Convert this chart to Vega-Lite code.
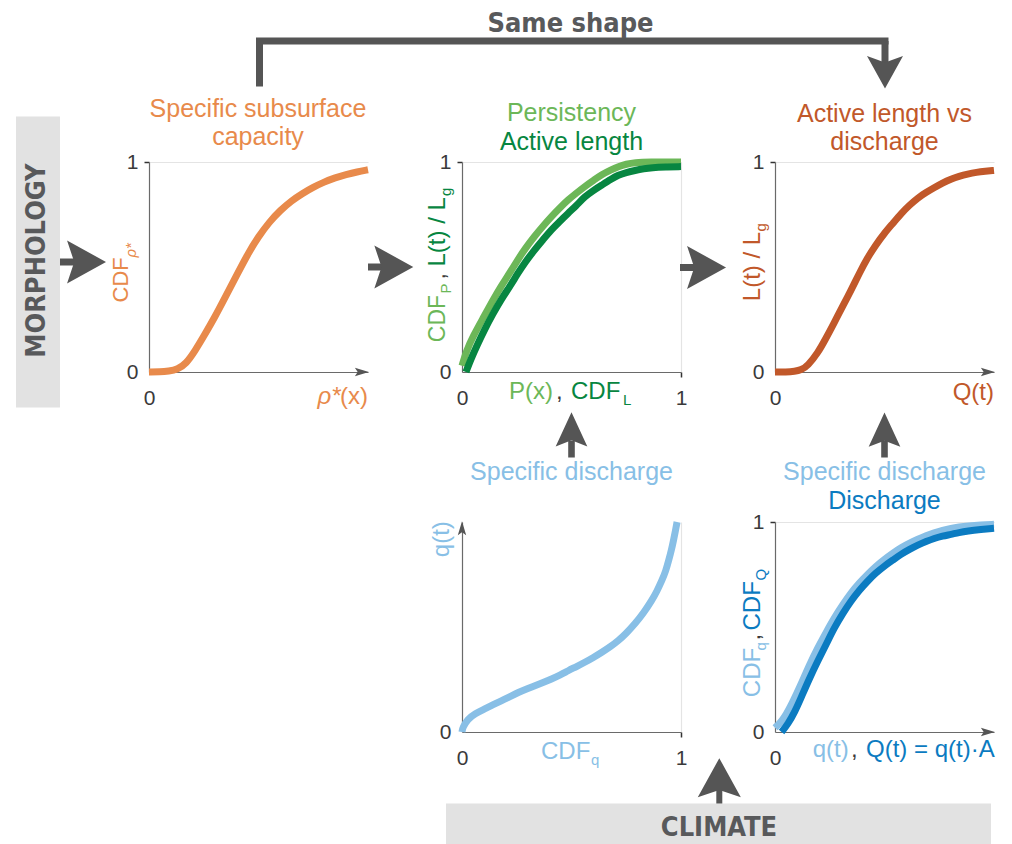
{
  "$schema": "https://vega.github.io/schema/vega-lite/v6.json",
  "padding": 0,
  "background": "#ffffff",
  "config": {
    "view": {"stroke": null},
    "axis": {"domainColor": "#6A6A6A", "domainWidth": 1.2, "tickColor": "#333333", "tickSize": 5, "tickWidth": 1.5, "labelFont": "Liberation Sans", "labelFontSize": 21, "labelColor": "#3A3A3A", "labelPadding": 6, "labelFlush": false, "gridColor": "#E4E4E4", "gridWidth": 1.2},
    "axisX": {"labelPadding": 10, "labelFlush": false},
    "axisY": {"labelFlush": false},
    "text": {"font": "Liberation Sans"}
  },
  "datasets": {
    "a": [{"x":0,"y":0},{"x":0.05,"y":0},{"x":0.09,"y":0.004},{"x":0.13,"y":0.012},{"x":0.17,"y":0.04},{"x":0.21,"y":0.1},{"x":0.25,"y":0.17},{"x":0.3,"y":0.26},{"x":0.35,"y":0.36},{"x":0.4,"y":0.46},{"x":0.45,"y":0.56},{"x":0.5,"y":0.645},{"x":0.55,"y":0.715},{"x":0.6,"y":0.77},{"x":0.65,"y":0.815},{"x":0.7,"y":0.85},{"x":0.75,"y":0.88},{"x":0.8,"y":0.905},{"x":0.85,"y":0.925},{"x":0.9,"y":0.94},{"x":0.95,"y":0.953},{"x":1.0,"y":0.963}],
    "persistency": [{"x":0,"y":0.03},{"x":0.02,"y":0.1},{"x":0.05,"y":0.17},{"x":0.102,"y":0.267},{"x":0.14,"y":0.34},{"x":0.179,"y":0.41},{"x":0.22,"y":0.475},{"x":0.255,"y":0.535},{"x":0.29,"y":0.59},{"x":0.33,"y":0.645},{"x":0.37,"y":0.695},{"x":0.408,"y":0.74},{"x":0.45,"y":0.785},{"x":0.485,"y":0.82},{"x":0.52,"y":0.85},{"x":0.56,"y":0.883},{"x":0.6,"y":0.912},{"x":0.638,"y":0.94},{"x":0.68,"y":0.962},{"x":0.714,"y":0.978},{"x":0.75,"y":0.99},{"x":0.79,"y":0.997},{"x":0.85,"y":1.0},{"x":1.0,"y":1.0}],
    "length": [{"x":0.018,"y":0},{"x":0.04,"y":0.06},{"x":0.07,"y":0.13},{"x":0.102,"y":0.2},{"x":0.14,"y":0.275},{"x":0.179,"y":0.346},{"x":0.22,"y":0.41},{"x":0.255,"y":0.47},{"x":0.29,"y":0.525},{"x":0.33,"y":0.58},{"x":0.37,"y":0.63},{"x":0.408,"y":0.678},{"x":0.45,"y":0.72},{"x":0.485,"y":0.757},{"x":0.52,"y":0.79},{"x":0.56,"y":0.835},{"x":0.6,"y":0.865},{"x":0.638,"y":0.89},{"x":0.68,"y":0.918},{"x":0.714,"y":0.938},{"x":0.75,"y":0.95},{"x":0.79,"y":0.96},{"x":0.83,"y":0.968},{"x":0.867,"y":0.973},{"x":0.93,"y":0.976},{"x":1.0,"y":0.978}],
    "c": [{"x":0,"y":0},{"x":0.05,"y":0},{"x":0.09,"y":0.003},{"x":0.119,"y":0.009},{"x":0.15,"y":0.03},{"x":0.195,"y":0.09},{"x":0.23,"y":0.155},{"x":0.269,"y":0.232},{"x":0.31,"y":0.315},{"x":0.347,"y":0.389},{"x":0.385,"y":0.47},{"x":0.423,"y":0.545},{"x":0.46,"y":0.605},{"x":0.498,"y":0.659},{"x":0.54,"y":0.71},{"x":0.575,"y":0.754},{"x":0.615,"y":0.795},{"x":0.652,"y":0.829},{"x":0.69,"y":0.855},{"x":0.726,"y":0.877},{"x":0.765,"y":0.9},{"x":0.804,"y":0.919},{"x":0.84,"y":0.932},{"x":0.88,"y":0.943},{"x":0.92,"y":0.951},{"x":0.96,"y":0.956},{"x":1.0,"y":0.96}],
    "d": [{"x":0,"y":0},{"x":0.003,"y":0.021},{"x":0.026,"y":0.061},{"x":0.06,"y":0.088},{"x":0.102,"y":0.109},{"x":0.14,"y":0.129},{"x":0.179,"y":0.148},{"x":0.22,"y":0.169},{"x":0.256,"y":0.188},{"x":0.3,"y":0.207},{"x":0.332,"y":0.22},{"x":0.37,"y":0.236},{"x":0.408,"y":0.252},{"x":0.45,"y":0.272},{"x":0.485,"y":0.292},{"x":0.52,"y":0.31},{"x":0.561,"y":0.332},{"x":0.6,"y":0.355},{"x":0.638,"y":0.379},{"x":0.68,"y":0.408},{"x":0.714,"y":0.435},{"x":0.75,"y":0.47},{"x":0.79,"y":0.515},{"x":0.83,"y":0.568},{"x":0.867,"y":0.627},{"x":0.89,"y":0.67},{"x":0.913,"y":0.722},{"x":0.93,"y":0.765},{"x":0.944,"y":0.818},{"x":0.956,"y":0.865},{"x":0.966,"y":0.914},{"x":0.975,"y":0.96},{"x":0.982,"y":1.0}],
    "cdfq": [{"x":0,"y":0.02},{"x":0.02,"y":0.04},{"x":0.043,"y":0.068},{"x":0.08,"y":0.14},{"x":0.119,"y":0.227},{"x":0.155,"y":0.315},{"x":0.195,"y":0.401},{"x":0.235,"y":0.477},{"x":0.271,"y":0.544},{"x":0.31,"y":0.607},{"x":0.347,"y":0.663},{"x":0.385,"y":0.71},{"x":0.423,"y":0.751},{"x":0.46,"y":0.789},{"x":0.499,"y":0.822},{"x":0.54,"y":0.853},{"x":0.575,"y":0.878},{"x":0.615,"y":0.9},{"x":0.652,"y":0.918},{"x":0.69,"y":0.935},{"x":0.727,"y":0.949},{"x":0.765,"y":0.961},{"x":0.804,"y":0.97},{"x":0.84,"y":0.976},{"x":0.88,"y":0.981},{"x":0.94,"y":0.986},{"x":1.0,"y":0.989}],
    "cdfQ": [{"x":0.03,"y":0},{"x":0.06,"y":0.04},{"x":0.09,"y":0.095},{"x":0.119,"y":0.163},{"x":0.155,"y":0.25},{"x":0.195,"y":0.338},{"x":0.235,"y":0.42},{"x":0.271,"y":0.497},{"x":0.31,"y":0.565},{"x":0.347,"y":0.624},{"x":0.385,"y":0.675},{"x":0.423,"y":0.719},{"x":0.46,"y":0.757},{"x":0.499,"y":0.79},{"x":0.54,"y":0.82},{"x":0.575,"y":0.846},{"x":0.615,"y":0.87},{"x":0.652,"y":0.89},{"x":0.69,"y":0.907},{"x":0.727,"y":0.922},{"x":0.765,"y":0.933},{"x":0.804,"y":0.941},{"x":0.84,"y":0.95},{"x":0.88,"y":0.957},{"x":0.94,"y":0.964},{"x":1.0,"y":0.97}]
  },
  "columns": 3,
  "spacing": {"row": 150, "column": 94},
  "bounds": "flush",
  "concat": [
    {
      "width": 219, "height": 210,
      "layer": [
        {
          "data": {"name": "a"},
          "mark": {"type": "line", "color": "#E88A4B", "strokeWidth": 7, "interpolate": "basis"},
          "encoding": {
            "x": {"field": "x", "type": "quantitative", "scale": {"domain": [0, 1], "nice": false, "zero": false}, "axis": {"title": null, "format": "d", "values": [0], "grid": false, "tickOpacity": 0}},
            "y": {"field": "y", "type": "quantitative", "scale": {"domain": [0, 1], "nice": false, "zero": false}, "axis": {"title": null, "format": "d", "values": [0, 1], "grid": true, "gridOpacity": {"condition": {"test": "datum.value == 0", "value": 0}, "value": 1}, "tickOpacity": {"condition": {"test": "datum.value == 0", "value": 0}, "value": 1}}}
          }
        },
        {
          "data": {"values": [{}]},
          "layer": [
            {"mark": {"type": "rect", "opacity": 0, "color": "#ffffff"}, "encoding": {"x": {"datum": -0.6758}, "x2": {"datum": 3.9452}, "y": {"datum": 1.769}, "y2": {"datum": -2.25}}},
            {"mark": {"type": "rect", "color": "#E2E2E2"}, "encoding": {"x": {"datum": -0.6073}, "x2": {"datum": -0.4064}, "y": {"datum": 1.2167}, "y2": {"datum": -0.169}}},
            {"mark": {"type": "text", "text": "MORPHOLOGY", "angle": 270, "font": "DejaVu Sans Condensed", "fontWeight": "bold", "fontSize": 27, "color": "#58595B", "align": "center", "baseline": "middle"}, "encoding": {"x": {"datum": -0.5114}, "y": {"datum": 0.531}}},
            {"mark": {"type": "rule", "color": "#555555", "strokeWidth": 7}, "encoding": {"x": {"datum": -0.4064}, "x2": {"datum": -0.27}, "y": {"datum": 0.5238}}},
            {"mark": {"type": "point", "shape": "M0,0L-1.9,-1.05L-1.55,0L-1.9,1.05Z", "size": 1681, "filled": true, "color": "#555555", "opacity": 1, "strokeWidth": 0}, "encoding": {"x": {"datum": -0.1963}, "y": {"datum": 0.5238}}},
            {"mark": {"type": "rule", "color": "#555555", "strokeWidth": 7}, "encoding": {"x": {"datum": 1.0}, "x2": {"datum": 1.09}, "y": {"datum": 0.5}}},
            {"mark": {"type": "point", "shape": "M0,0L-1.9,-1.05L-1.55,0L-1.9,1.05Z", "size": 1681, "filled": true, "color": "#555555", "opacity": 1, "strokeWidth": 0}, "encoding": {"x": {"datum": 1.2068}, "y": {"datum": 0.5}}},
            {"mark": {"type": "rule", "color": "#555555", "strokeWidth": 7, "strokeCap": "square"}, "encoding": {"x": {"datum": 0.5046}, "x2": {"datum": 3.3607}, "y": {"datum": 1.5762}}},
            {"mark": {"type": "rule", "color": "#555555", "strokeWidth": 7}, "encoding": {"x": {"datum": 0.5046}, "y": {"datum": 1.5762}, "y2": {"datum": 1.3595}}},
            {"mark": {"type": "rule", "color": "#555555", "strokeWidth": 7}, "encoding": {"x": {"datum": 3.3607}, "y": {"datum": 1.5762}, "y2": {"datum": 1.45}}},
            {"mark": {"type": "point", "shape": "M0,0L-1,-1.8L0,-1.45L1,-1.8Z", "size": 1296, "filled": true, "color": "#555555", "opacity": 1, "strokeWidth": 0}, "encoding": {"x": {"datum": 3.3607}, "y": {"datum": 1.35}}},
            {"mark": {"type": "text", "text": "Same shape", "font": "DejaVu Sans Condensed", "fontWeight": "bold", "fontSize": 27, "color": "#58595B", "align": "center", "baseline": "alphabetic"}, "encoding": {"x": {"datum": 1.9247}, "y": {"datum": 1.6167}}},
            {"mark": {"type": "text", "text": "Specific subsurface", "fontSize": 25, "color": "#E88A4B", "align": "center", "baseline": "alphabetic"}, "encoding": {"x": {"datum": 0.4977}, "y": {"datum": 1.2143}}},
            {"mark": {"type": "text", "text": "capacity", "fontSize": 25, "color": "#E88A4B", "align": "center", "baseline": "alphabetic"}, "encoding": {"x": {"datum": 0.4977}, "y": {"datum": 1.0786}}},
            {"mark": {"type": "text", "text": "CDF", "angle": 270, "fontSize": 22, "color": "#E88A4B", "align": "left", "baseline": "alphabetic"}, "encoding": {"x": {"datum": -0.0959}, "y": {"datum": 0.331}}},
            {"mark": {"type": "text", "text": "ρ*", "angle": 270, "fontSize": 15, "fontStyle": "italic", "color": "#E88A4B", "align": "left", "baseline": "alphabetic"}, "encoding": {"x": {"datum": -0.0594}, "y": {"datum": 0.5452}}},
            {"mark": {"type": "text", "text": "(x)", "fontSize": 24, "color": "#E88A4B", "align": "right", "baseline": "alphabetic"}, "encoding": {"x": {"datum": 1.0}, "y": {"datum": -0.1514}}},
            {"mark": {"type": "text", "text": "ρ*", "fontSize": 24, "fontStyle": "italic", "color": "#E88A4B", "align": "right", "baseline": "alphabetic"}, "encoding": {"x": {"datum": 0.8744}, "y": {"datum": -0.1514}}},
            {"mark": {"type": "point", "shape": "M0,0L-2,-0.6L-1.6,0L-2,0.6Z", "size": 196, "filled": true, "color": "#555555", "opacity": 1, "strokeWidth": 0}, "encoding": {"x": {"datum": 1.004}, "y": {"datum": 0}}}
          ]
        }
      ]
    },
    {
      "width": 219, "height": 210,
      "layer": [
        {
          "data": {"name": "persistency"},
          "mark": {"type": "line", "color": "#6CB758", "strokeWidth": 7, "interpolate": "basis"},
          "encoding": {
            "x": {"field": "x", "type": "quantitative", "scale": {"domain": [0, 1], "nice": false, "zero": false}, "axis": {"title": null, "format": "d", "values": [0, 1], "grid": true, "gridOpacity": {"condition": {"test": "datum.value == 0", "value": 0}, "value": 1}, "tickOpacity": {"condition": {"test": "datum.value == 0", "value": 0}, "value": 1}}},
            "y": {"field": "y", "type": "quantitative", "scale": {"domain": [0, 1], "nice": false, "zero": false}, "axis": {"title": null, "format": "d", "values": [0, 1], "grid": true, "gridOpacity": {"condition": {"test": "datum.value == 0", "value": 0}, "value": 1}, "tickOpacity": {"condition": {"test": "datum.value == 0", "value": 0}, "value": 1}}}
          }
        },
        {
          "data": {"name": "length"},
          "mark": {"type": "line", "color": "#078641", "strokeWidth": 7, "interpolate": "basis"},
          "encoding": {
            "x": {"field": "x", "type": "quantitative"},
            "y": {"field": "y", "type": "quantitative"}
          }
        },
        {
          "data": {"values": [{}]},
          "layer": [
            {"mark": {"type": "rule", "color": "#555555", "strokeWidth": 7}, "encoding": {"x": {"datum": 0.9954}, "x2": {"datum": 1.08}, "y": {"datum": 0.4976}}},
            {"mark": {"type": "point", "shape": "M0,0L-1.9,-1.05L-1.55,0L-1.9,1.05Z", "size": 1681, "filled": true, "color": "#555555", "opacity": 1, "strokeWidth": 0}, "encoding": {"x": {"datum": 1.2055}, "y": {"datum": 0.4976}}},
            {"mark": {"type": "text", "text": "Persistency", "fontSize": 25, "color": "#6CB758", "align": "center", "baseline": "alphabetic"}, "encoding": {"x": {"datum": 0.5}, "y": {"datum": 1.1943}}},
            {"mark": {"type": "text", "text": "Active length", "fontSize": 25, "color": "#078641", "align": "center", "baseline": "alphabetic"}, "encoding": {"x": {"datum": 0.5}, "y": {"datum": 1.0548}}},
            {"mark": {"type": "text", "text": "CDF", "angle": 270, "fontSize": 23, "color": "#6CB758", "align": "left", "baseline": "alphabetic"}, "encoding": {"x": {"datum": -0.0776}, "y": {"datum": 0.1419}}},
            {"mark": {"type": "text", "text": "P", "angle": 270, "fontSize": 15, "color": "#6CB758", "align": "left", "baseline": "alphabetic"}, "encoding": {"x": {"datum": -0.0502}, "y": {"datum": 0.3738}}},
            {"mark": {"type": "text", "text": ",", "angle": 270, "fontSize": 23, "color": "#3A3A3A", "align": "left", "baseline": "alphabetic"}, "encoding": {"x": {"datum": -0.0776}, "y": {"datum": 0.4405}}},
            {"mark": {"type": "text", "text": "L(t) / L", "angle": 270, "fontSize": 24, "color": "#078641", "align": "left", "baseline": "alphabetic"}, "encoding": {"x": {"datum": -0.0776}, "y": {"datum": 0.5024}}},
            {"mark": {"type": "text", "text": "g", "angle": 270, "fontSize": 15, "color": "#078641", "align": "left", "baseline": "alphabetic"}, "encoding": {"x": {"datum": -0.0502}, "y": {"datum": 0.8381}}},
            {"mark": {"type": "text", "text": "P(x)", "fontSize": 24, "color": "#6CB758", "align": "left", "baseline": "alphabetic"}, "encoding": {"x": {"datum": 0.2146}, "y": {"datum": -0.1262}}},
            {"mark": {"type": "text", "text": ",", "fontSize": 24, "color": "#3A3A3A", "align": "left", "baseline": "alphabetic"}, "encoding": {"x": {"datum": 0.4292}, "y": {"datum": -0.1262}}},
            {"mark": {"type": "text", "text": "CDF", "fontSize": 24, "color": "#078641", "align": "left", "baseline": "alphabetic"}, "encoding": {"x": {"datum": 0.4977}, "y": {"datum": -0.1262}}},
            {"mark": {"type": "text", "text": "L", "fontSize": 15, "color": "#078641", "align": "left", "baseline": "alphabetic"}, "encoding": {"x": {"datum": 0.7352}, "y": {"datum": -0.1548}}}
          ]
        }
      ]
    },
    {
      "width": 219, "height": 210,
      "layer": [
        {
          "data": {"name": "c"},
          "mark": {"type": "line", "color": "#C1582A", "strokeWidth": 7, "interpolate": "basis"},
          "encoding": {
            "x": {"field": "x", "type": "quantitative", "scale": {"domain": [0, 1], "nice": false, "zero": false}, "axis": {"title": null, "format": "d", "values": [0], "grid": false, "tickOpacity": 0}},
            "y": {"field": "y", "type": "quantitative", "scale": {"domain": [0, 1], "nice": false, "zero": false}, "axis": {"title": null, "format": "d", "values": [0, 1], "grid": true, "gridOpacity": {"condition": {"test": "datum.value == 0", "value": 0}, "value": 1}, "tickOpacity": {"condition": {"test": "datum.value == 0", "value": 0}, "value": 1}}}
          }
        },
        {
          "data": {"values": [{}]},
          "layer": [
            {"mark": {"type": "text", "text": "Active length vs", "fontSize": 25, "color": "#C1582A", "align": "center", "baseline": "alphabetic"}, "encoding": {"x": {"datum": 0.5}, "y": {"datum": 1.1919}}},
            {"mark": {"type": "text", "text": "discharge", "fontSize": 25, "color": "#C1582A", "align": "center", "baseline": "alphabetic"}, "encoding": {"x": {"datum": 0.5}, "y": {"datum": 1.0548}}},
            {"mark": {"type": "text", "text": "L(t) / L", "angle": 270, "fontSize": 24, "color": "#C1582A", "align": "left", "baseline": "alphabetic"}, "encoding": {"x": {"datum": -0.0685}, "y": {"datum": 0.3371}}},
            {"mark": {"type": "text", "text": "g", "angle": 270, "fontSize": 15, "color": "#C1582A", "align": "left", "baseline": "alphabetic"}, "encoding": {"x": {"datum": -0.0411}, "y": {"datum": 0.669}}},
            {"mark": {"type": "text", "text": "Q(t)", "fontSize": 24, "color": "#C1582A", "align": "right", "baseline": "alphabetic"}, "encoding": {"x": {"datum": 1.0}, "y": {"datum": -0.1357}}},
            {"mark": {"type": "point", "shape": "M0,0L-2,-0.6L-1.6,0L-2,0.6Z", "size": 196, "filled": true, "color": "#555555", "opacity": 1, "strokeWidth": 0}, "encoding": {"x": {"datum": 1.004}, "y": {"datum": 0}}}
          ]
        }
      ]
    },
    {
      "width": 219, "height": 210,
      "data": {"values": [{}]},
      "mark": {"type": "point", "opacity": 0},
      "encoding": {}
    },
    {
      "width": 219, "height": 210,
      "layer": [
        {
          "data": {"name": "d"},
          "mark": {"type": "line", "color": "#88BFE6", "strokeWidth": 7, "interpolate": "basis"},
          "encoding": {
            "x": {"field": "x", "type": "quantitative", "scale": {"domain": [0, 1], "nice": false, "zero": false}, "axis": {"title": null, "format": "d", "values": [0, 1], "grid": true, "gridOpacity": {"condition": {"test": "datum.value == 0", "value": 0}, "value": 1}, "tickOpacity": {"condition": {"test": "datum.value == 0", "value": 0}, "value": 1}}},
            "y": {"field": "y", "type": "quantitative", "scale": {"domain": [0, 1], "nice": false, "zero": false}, "axis": {"title": null, "format": "d", "values": [0], "grid": false, "tickOpacity": 0}}
          }
        },
        {
          "data": {"values": [{}]},
          "layer": [
            {"mark": {"type": "text", "text": "Specific discharge", "fontSize": 25, "color": "#88BFE6", "align": "center", "baseline": "alphabetic"}, "encoding": {"x": {"datum": 0.5}, "y": {"datum": 1.201}}},
            {"mark": {"type": "rule", "color": "#555555", "strokeWidth": 6.6}, "encoding": {"x": {"datum": 0.5}, "y": {"datum": 1.3881}, "y2": {"datum": 1.3071}}},
            {"mark": {"type": "point", "shape": "M0,0L-0.9,1.95L0,1.6L0.9,1.95Z", "size": 1239, "filled": true, "color": "#555555", "opacity": 1, "strokeWidth": 0}, "encoding": {"x": {"datum": 0.5}, "y": {"datum": 1.5229}}},
            {"mark": {"type": "text", "text": "q(t)", "angle": 270, "fontSize": 24, "color": "#88BFE6", "align": "left", "baseline": "alphabetic"}, "encoding": {"x": {"datum": -0.0616}, "y": {"datum": 0.8324}}},
            {"mark": {"type": "text", "text": "CDF", "fontSize": 24, "color": "#88BFE6", "align": "left", "baseline": "alphabetic"}, "encoding": {"x": {"datum": 0.3607}, "y": {"datum": -0.1262}}},
            {"mark": {"type": "text", "text": "q", "fontSize": 15, "color": "#88BFE6", "align": "left", "baseline": "alphabetic"}, "encoding": {"x": {"datum": 0.589}, "y": {"datum": -0.1548}}},
            {"mark": {"type": "point", "shape": "M0,0L-0.6,2L0,1.6L0.6,2Z", "size": 196, "filled": true, "color": "#555555", "opacity": 1, "strokeWidth": 0}, "encoding": {"x": {"datum": 0}, "y": {"datum": 1.004}}},
            {"mark": {"type": "rect", "color": "#E2E2E2"}, "encoding": {"x": {"datum": -0.0731}, "x2": {"datum": 2.4155}, "y": {"datum": -0.3405}, "y2": {"datum": -0.5357}}},
            {"mark": {"type": "text", "text": "CLIMATE", "font": "DejaVu Sans Condensed", "fontWeight": "bold", "fontSize": 27, "color": "#58595B", "align": "center", "baseline": "alphabetic"}, "encoding": {"x": {"datum": 1.1735}, "y": {"datum": -0.4976}}},
            {"mark": {"type": "rule", "color": "#555555", "strokeWidth": 6}, "encoding": {"x": {"datum": 1.1749}, "y": {"datum": -0.27}, "y2": {"datum": -0.3405}}},
            {"mark": {"type": "point", "shape": "M0,0L-1.05,1.9L0,1.55L1.05,1.9Z", "size": 1681, "filled": true, "color": "#555555", "opacity": 1, "strokeWidth": 0}, "encoding": {"x": {"datum": 1.1749}, "y": {"datum": -0.1248}}}
          ]
        }
      ]
    },
    {
      "width": 219, "height": 210,
      "layer": [
        {
          "data": {"name": "cdfq"},
          "mark": {"type": "line", "color": "#88BFE6", "strokeWidth": 7, "interpolate": "basis"},
          "encoding": {
            "x": {"field": "x", "type": "quantitative", "scale": {"domain": [0, 1], "nice": false, "zero": false}, "axis": {"title": null, "format": "d", "values": [0], "grid": false, "tickOpacity": 0}},
            "y": {"field": "y", "type": "quantitative", "scale": {"domain": [0, 1], "nice": false, "zero": false}, "axis": {"title": null, "format": "d", "values": [0, 1], "grid": true, "gridOpacity": {"condition": {"test": "datum.value == 0", "value": 0}, "value": 1}, "tickOpacity": {"condition": {"test": "datum.value == 0", "value": 0}, "value": 1}}}
          }
        },
        {
          "data": {"name": "cdfQ"},
          "mark": {"type": "line", "color": "#0B7BC1", "strokeWidth": 7, "interpolate": "basis"},
          "encoding": {
            "x": {"field": "x", "type": "quantitative"},
            "y": {"field": "y", "type": "quantitative"}
          }
        },
        {
          "data": {"values": [{}]},
          "layer": [
            {"mark": {"type": "rule", "color": "#555555", "strokeWidth": 6.6}, "encoding": {"x": {"datum": 0.5}, "y": {"datum": 1.3881}, "y2": {"datum": 1.3071}}},
            {"mark": {"type": "point", "shape": "M0,0L-0.9,1.95L0,1.6L0.9,1.95Z", "size": 1239, "filled": true, "color": "#555555", "opacity": 1, "strokeWidth": 0}, "encoding": {"x": {"datum": 0.5}, "y": {"datum": 1.5214}}},
            {"mark": {"type": "text", "text": "Specific discharge", "fontSize": 25, "color": "#88BFE6", "align": "center", "baseline": "alphabetic"}, "encoding": {"x": {"datum": 0.5}, "y": {"datum": 1.201}}},
            {"mark": {"type": "text", "text": "Discharge", "fontSize": 25, "color": "#0B7BC1", "align": "center", "baseline": "alphabetic"}, "encoding": {"x": {"datum": 0.5}, "y": {"datum": 1.0629}}},
            {"mark": {"type": "text", "text": "CDF", "angle": 270, "fontSize": 24, "color": "#88BFE6", "align": "left", "baseline": "alphabetic"}, "encoding": {"x": {"datum": -0.0685}, "y": {"datum": 0.1657}}},
            {"mark": {"type": "text", "text": "q", "angle": 270, "fontSize": 15, "color": "#88BFE6", "align": "left", "baseline": "alphabetic"}, "encoding": {"x": {"datum": -0.0411}, "y": {"datum": 0.3881}}},
            {"mark": {"type": "text", "text": ",", "angle": 270, "fontSize": 24, "color": "#3A3A3A", "align": "left", "baseline": "alphabetic"}, "encoding": {"x": {"datum": -0.0685}, "y": {"datum": 0.4357}}},
            {"mark": {"type": "text", "text": "CDF", "angle": 270, "fontSize": 24, "color": "#0B7BC1", "align": "left", "baseline": "alphabetic"}, "encoding": {"x": {"datum": -0.0685}, "y": {"datum": 0.4833}}},
            {"mark": {"type": "text", "text": "Q", "angle": 270, "fontSize": 15, "color": "#0B7BC1", "align": "left", "baseline": "alphabetic"}, "encoding": {"x": {"datum": -0.0411}, "y": {"datum": 0.7214}}},
            {"mark": {"type": "text", "text": "q(t)", "fontSize": 24, "color": "#88BFE6", "align": "left", "baseline": "alphabetic"}, "encoding": {"x": {"datum": 0.1721}, "y": {"datum": -0.1214}}},
            {"mark": {"type": "text", "text": ",", "fontSize": 24, "color": "#3A3A3A", "align": "left", "baseline": "alphabetic"}, "encoding": {"x": {"datum": 0.347}, "y": {"datum": -0.1214}}},
            {"mark": {"type": "text", "text": "Q(t) = q(t)·A", "fontSize": 24, "color": "#0B7BC1", "align": "left", "baseline": "alphabetic"}, "encoding": {"x": {"datum": 0.4155}, "y": {"datum": -0.1214}}},
            {"mark": {"type": "point", "shape": "M0,0L-2,-0.6L-1.6,0L-2,0.6Z", "size": 196, "filled": true, "color": "#555555", "opacity": 1, "strokeWidth": 0}, "encoding": {"x": {"datum": 1.004}, "y": {"datum": 0}}}
          ]
        }
      ]
    }
  ]
}
